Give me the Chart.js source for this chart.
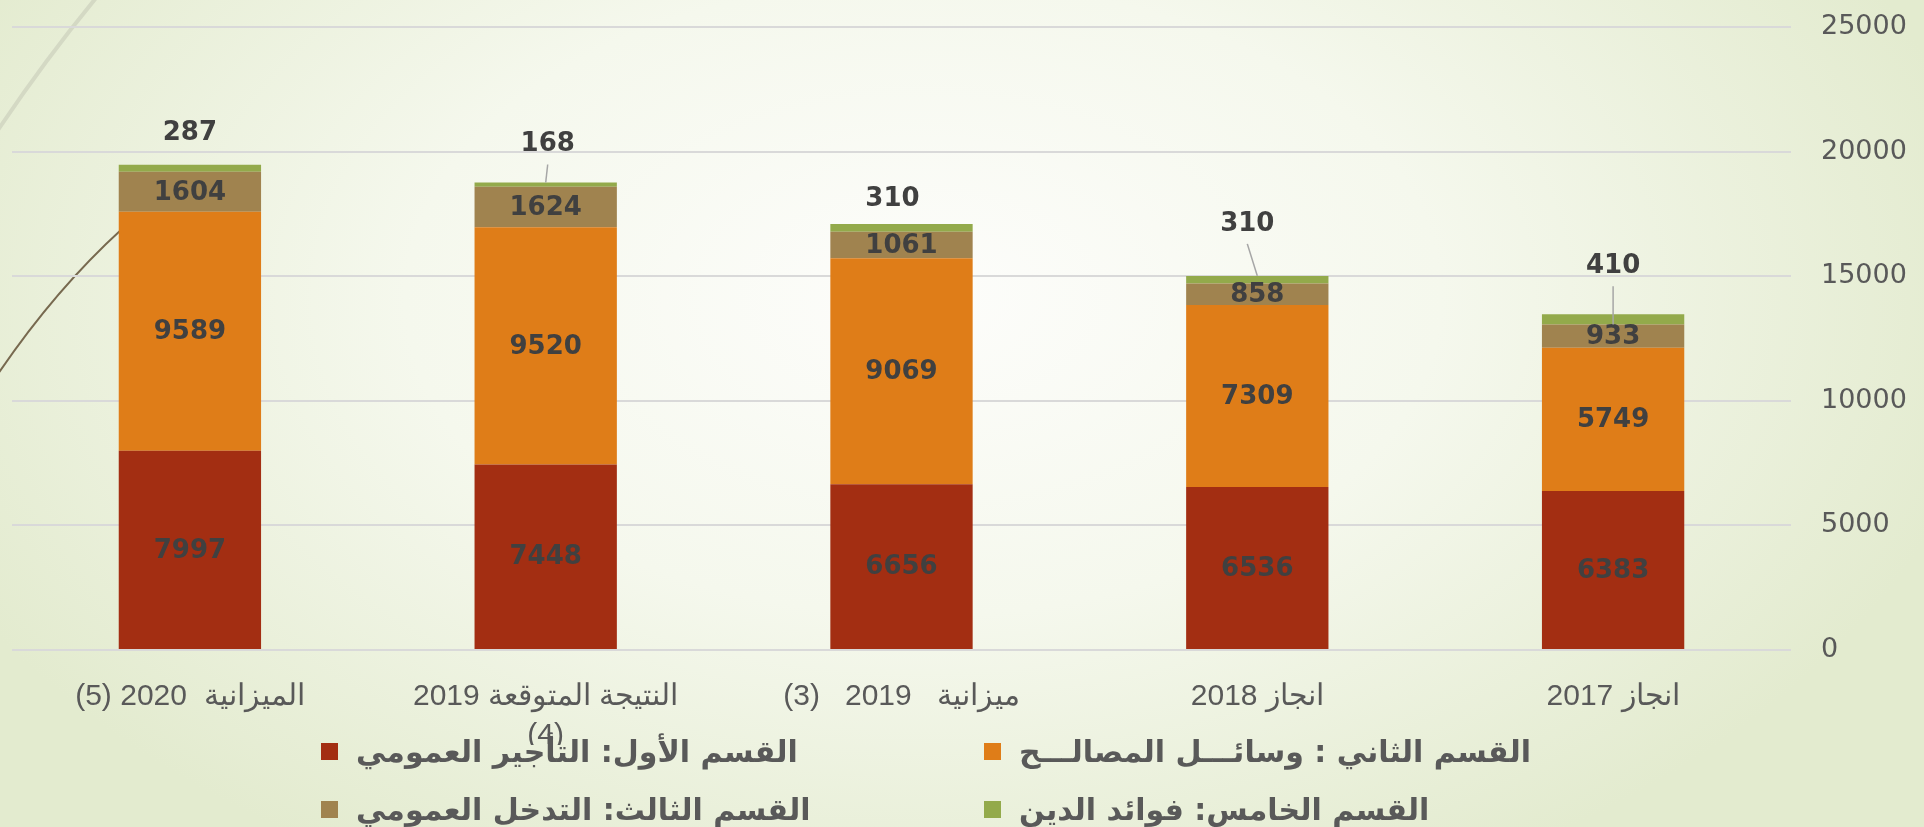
<!DOCTYPE html>
<html>
<head>
<meta charset="utf-8">
<script src="https://cdn.jsdelivr.net/npm/chart.js@4.4.1/dist/chart.umd.min.js"></script>
<style>
  html, body { margin: 0; padding: 0; }
  body {
    width: 1924px;
    height: 827px;
    overflow: hidden;
    position: relative;
    background: radial-gradient(ellipse 56% 80% at 48% 36%, #fdfdfb 0%, #f5f8ed 48%, #e3ebcf 100%);
  }
  #chart { position: absolute; left: 0; top: 0; }
  #legend {
    position: absolute;
    left: 321px;
    top: 731px;
    display: grid;
    grid-template-columns: 663px auto;
    row-gap: 18px;
  }
  .legend-item { display: flex; align-items: center; height: 40px; }
  .legend-box { width: 17px; height: 17px; margin-right: 18px; flex: none; }
  .legend-text { direction: rtl; font: bold 30px 'DejaVu Sans', sans-serif; color: #595959; white-space: pre; }
</style>
</head>
<body>
<canvas id="chart" width="1924" height="827" dir="rtl"></canvas>
<div id="legend"></div>
<script>
// categories in chronological order, x axis is reversed (right to left)
const categories = [
  'انجاز 2017',
  'انجاز 2018',
  'ميزانية   2019   (3)',
  ['النتيجة المتوقعة 2019', '(4)'],
  'الميزانية  2020 (5)'
]
const seriesNames = [
  'القسم الأول: التأجير العمومي',
  'القسم الثاني : وسائـــل المصالـــح',
  'القسم الثالث: التدخل العمومي',
  'القسم الخامس: فوائد الدين'
]
const rentalValues = [6383, 6536, 6656, 7448, 7997]
const meansValues = [5749, 7309, 9069, 9520, 9589]
const interventionValues = [933, 858, 1061, 1624, 1604]
const debtValues = [410, 310, 310, 168, 287]
const yTicks = [0, 5000, 10000, 15000, 20000, 25000]

const colors = ['#A32E12', '#DF7D18', '#A0834F', '#93AA4B']

// callout offsets for the top (debt) labels: [dx, dy, leader] ; leader 0 none, 1 to bar top, 2 to segment base
const topLabelCallouts = [
  [0, -48, 2],
  [-10, -52, 1],
  [-9, -25, 0],
  [2, -38, 1],
  [0, -31, 0]
]

const backdrop = {
  id: 'backdrop',
  beforeDraw (chart) {
    const { ctx } = chart
    ctx.save()
    ctx.lineCap = 'round'
    ctx.strokeStyle = '#d4d9c4'
    ctx.lineWidth = 4
    ctx.beginPath()
    ctx.moveTo(96, -2)
    ctx.quadraticCurveTo(45, 60, -2, 130)
    ctx.stroke()
    ctx.strokeStyle = '#77694f'
    ctx.lineWidth = 2
    ctx.beginPath()
    ctx.moveTo(-2, 374)
    ctx.quadraticCurveTo(55, 290, 122, 229)
    ctx.stroke()
    ctx.restore()
  }
}

const valueLabels = {
  id: 'valueLabels',
  afterDatasetsDraw (chart) {
    const { ctx } = chart
    ctx.save()
    ctx.font = 'bold 26px "DejaVu Sans"'
    ctx.fillStyle = '#404040'
    ctx.textAlign = 'center'
    ctx.textBaseline = 'middle'
    chart.data.datasets.forEach((ds, di) => {
      const meta = chart.getDatasetMeta(di)
      meta.data.forEach((bar, i) => {
        const value = String(ds.data[i])
        if (di < chart.data.datasets.length - 1) {
          ctx.fillText(value, bar.x, (bar.y + bar.base) / 2 + 1)
          return
        }
        const [dx, dy, leader] = topLabelCallouts[i]
        const lx = bar.x + dx
        const ly = bar.y + dy
        ctx.fillText(value, lx, ly)
        if (leader) {
          ctx.strokeStyle = '#a6a6a6'
          ctx.lineWidth = 1.5
          ctx.beginPath()
          ctx.moveTo(lx, ly + 20)
          ctx.lineTo(bar.x, leader === 2 ? bar.base : bar.y)
          ctx.stroke()
        }
      })
    })
    ctx.restore()
  }
}

const seriesValues = [rentalValues, meansValues, interventionValues, debtValues]

const chart = new Chart(document.getElementById('chart'), {
  type: 'bar',
  data: {
    labels: categories,
    datasets: seriesValues.map((values, i) => ({
      label: seriesNames[i],
      data: values,
      backgroundColor: colors[i],
      borderWidth: 0,
      categoryPercentage: 1,
      barPercentage: 0.4
    }))
  },
  options: {
    responsive: false,
    animation: false,
    layout: {
      padding: { left: 12, top: 27, right: 0, bottom: 82 }
    },
    scales: {
      x: {
        stacked: true,
        reverse: true,
        grid: { display: false },
        border: { display: false },
        afterFit (scale) {
          scale.height = 95
        },
        ticks: {
          color: '#595959',
          font: { family: "'Liberation Sans'", size: 30, lineHeight: 1.3 },
          padding: 19,
          maxRotation: 0,
          autoSkip: false
        }
      },
      y: {
        stacked: true,
        position: 'right',
        min: yTicks[0],
        max: yTicks[yTicks.length - 1],
        afterBuildTicks (scale) {
          scale.ticks = yTicks.map(value => ({ value }))
        },
        afterFit (scale) {
          scale.width = 133
          scale.paddingTop = 0
          scale.paddingBottom = 0
        },
        grid: {
          color: '#d9d9d9',
          lineWidth: 2,
          drawTicks: false
        },
        border: { display: false },
        ticks: {
          color: '#595959',
          font: { family: "'DejaVu Sans'", size: 27 },
          padding: 30,
          callback: value => String(value)
        }
      }
    },
    plugins: {
      legend: { display: false },
      tooltip: { enabled: false }
    }
  },
  plugins: [backdrop, valueLabels]
})

// html legend, two columns like the original slide
const legendEl = document.getElementById('legend')
chart.data.datasets.forEach(ds => {
  const item = document.createElement('div')
  item.className = 'legend-item'
  const box = document.createElement('span')
  box.className = 'legend-box'
  box.style.background = ds.backgroundColor
  const text = document.createElement('span')
  text.className = 'legend-text'
  text.textContent = ds.label
  item.appendChild(box)
  item.appendChild(text)
  legendEl.appendChild(item)
})
</script>
</body>
</html>
